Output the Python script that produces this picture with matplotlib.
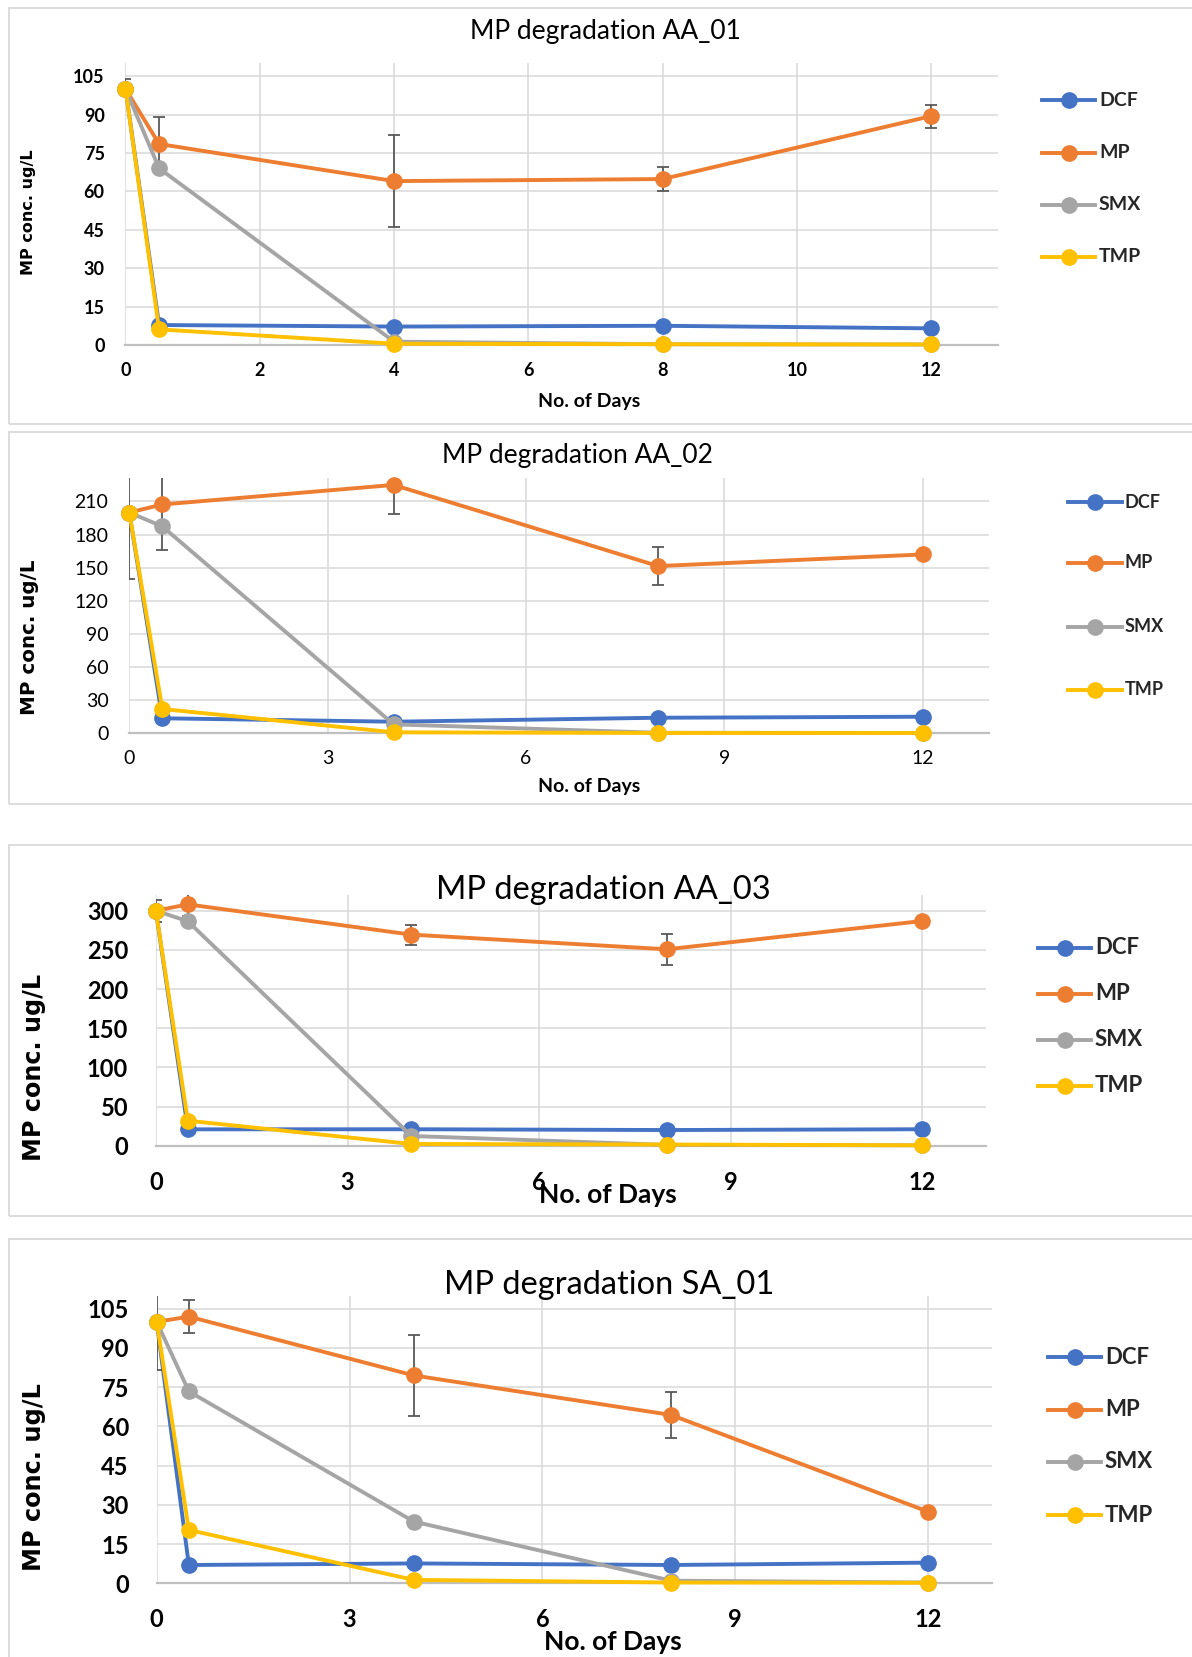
import matplotlib
matplotlib.use("Agg")
import matplotlib.pyplot as plt
from matplotlib.patches import Rectangle
from matplotlib.lines import Line2D

# ---------------- data ----------------
days = [0, 0.5, 4, 8, 12]
series_names = ["DCF", "MP", "SMX", "TMP"]

titles = ["MP degradation AA_01", "MP degradation AA_02",
          "MP degradation AA_03", "MP degradation SA_01"]

aa01_dcf = [100, 7.8, 7.2, 7.5, 6.5]
aa01_mp = [100, 78.5, 64.0, 64.8, 89.4]
aa01_smx = [100, 69.0, 1.3, 0.3, 0.2]
aa01_tmp = [100, 6.1, 0.5, 0.3, 0.2]
aa01_mp_err = [3.8, 10.6, 18.0, 4.8, 4.5]

aa02_dcf = [200, 13.6, 10.5, 14.1, 15.0]
aa02_mp = [200, 207.3, 225.0, 151.5, 162.0]
aa02_smx = [200, 187.4, 8.1, 0.5, 0.3]
aa02_tmp = [200, 22.0, 0.9, 0.3, 0.3]
aa02_mp_err = [60.5, 41.6, 26.0, 17.0, 0]

aa03_dcf = [300, 20.9, 21.0, 20.0, 21.0]
aa03_mp = [300, 308.0, 269.4, 250.7, 286.8]
aa03_smx = [300, 286.4, 12.4, 1.0, 0.5]
aa03_tmp = [300, 31.9, 2.2, 1.5, 0.5]
aa03_mp_err = [14.0, 15.0, 12.7, 19.5, 0]

sa01_dcf = [100, 7.0, 7.6, 7.0, 7.9]
sa01_mp = [100, 102.0, 79.5, 64.4, 27.4]
sa01_smx = [100, 73.4, 23.6, 1.0, 0.3]
sa01_tmp = [100, 20.4, 1.3, 0.3, 0.2]
sa01_mp_err = [18.3, 6.2, 15.4, 8.9, 0]

yticks_list = [list(range(0, 106, 15)), list(range(0, 211, 30)),
               list(range(0, 301, 50)), list(range(0, 106, 15))]
xticks_list = [list(range(0, 13, 2)), list(range(0, 13, 3)),
               list(range(0, 13, 3)), list(range(0, 13, 3))]
ymax_list = [110, 231, 320, 110]

panels_data = [
    (aa01_dcf, aa01_mp, aa01_smx, aa01_tmp, aa01_mp_err),
    (aa02_dcf, aa02_mp, aa02_smx, aa02_tmp, aa02_mp_err),
    (aa03_dcf, aa03_mp, aa03_smx, aa03_tmp, aa03_mp_err),
    (sa01_dcf, sa01_mp, sa01_smx, sa01_tmp, sa01_mp_err),
]

# ---------------- style ----------------
colors = {"DCF": "#4472C4", "MP": "#ED7D31", "SMX": "#A5A5A5", "TMP": "#FFC000"}
TXT = ["Lato", "DejaVu Sans"]
W, H = 1192, 1657
LW = 2.8
MS = 11

fig = plt.figure(figsize=(W / 100, H / 100), dpi=100)


def fx(x):
    return x / W


def fy(y):
    return 1 - y / H


# layout per panel (pixel coords in full image)
layout = [
    dict(ax=(125.5, 63.3, 998.5, 345.0), box=(9, 8, 1200, 424),
         title=(605, 32, 19), xlab=(589, 402, 14), ylab=(28, 212, 11.5),
         tick_fs=13, tick_bold=True, xpad=12, ypad=15,
         leg_x=(1042, 1095, 1099), leg_y=[100, 153, 205, 257], leg_fs=14),
    dict(ax=(129.3, 478.3, 988.6, 733.3), box=(9, 432, 1200, 804),
         title=(577, 456, 19), xlab=(589, 786, 14), ylab=(30, 637, 14.3),
         tick_fs=14, tick_bold=False, xpad=12, ypad=15,
         leg_x=(1068, 1122, 1125), leg_y=[502, 563, 627, 690], leg_fs=13),
    dict(ax=(155.9, 895.0, 986.3, 1145.7), box=(9, 845, 1200, 1216),
         title=(603, 890, 23.5), xlab=(608, 1195, 19), ylab=(34, 1067, 17.2),
         tick_fs=17, tick_bold=True, xpad=18, ypad=20,
         leg_x=(1038, 1091, 1095), leg_y=[948, 994, 1040, 1086], leg_fs=16),
    dict(ax=(156.7, 1295.7, 992.4, 1583.3), box=(9, 1239, 1200, 1700),
         title=(609, 1285, 23.5), xlab=(613, 1642, 19), ylab=(34, 1477, 17.3),
         tick_fs=17, tick_bold=True, xpad=18, ypad=20,
         leg_x=(1048, 1101, 1105), leg_y=[1357, 1410, 1462, 1515], leg_fs=16),
]

for i, (lay, data) in enumerate(zip(layout, panels_data)):
    # chart area border
    bx0, by0, bx1, by1 = lay["box"]
    fig.patches.append(Rectangle((fx(bx0), fy(by1)), fx(bx1 - bx0), (by1 - by0) / H,
                                 transform=fig.transFigure, fill=False,
                                 edgecolor="#D9D9D9", linewidth=1.3, zorder=0))
    x0, y0, x1, y1 = lay["ax"]
    ax = fig.add_axes([fx(x0), fy(y1), fx(x1 - x0), (y1 - y0) / H])
    ax.set_xlim(0, 13)
    ax.set_ylim(0, ymax_list[i])
    ax.set_xticks(xticks_list[i])
    ax.set_yticks(yticks_list[i])
    for s in ["top", "right", "left"]:
        ax.spines[s].set_visible(False)
    ax.spines["bottom"].set_color("#BFBFBF")
    ax.spines["bottom"].set_linewidth(1.6)
    ax.grid(True, color="#D9D9D9", linewidth=1.1)
    ax.set_axisbelow(True)
    fw = "bold" if lay["tick_bold"] else "normal"
    ax.tick_params(axis="both", length=0, labelsize=lay["tick_fs"], colors="black")
    ax.tick_params(axis="x", pad=lay["xpad"])
    ax.tick_params(axis="y", pad=lay["ypad"])
    for lab in ax.get_xticklabels() + ax.get_yticklabels():
        lab.set_fontfamily(TXT)
        lab.set_fontweight(fw)

    dcf, mp, smx, tmp, mp_err = data
    vals = {"DCF": dcf, "MP": mp, "SMX": smx, "TMP": tmp}
    for k, name in enumerate(series_names):
        ax.plot(days, vals[name], color=colors[name], linewidth=LW,
                marker="o", markersize=MS, clip_on=False, zorder=3 + k)
        if name == "MP":
            ax.errorbar(days, mp, yerr=mp_err, fmt="none", ecolor="#595959",
                        elinewidth=1.3, capsize=4, capthick=1.3, zorder=3.5)

    # title and axis labels
    tx, ty, tfs = lay["title"]
    fig.text(fx(tx), fy(ty), titles[i], ha="center", va="center",
             fontsize=tfs, family=TXT, color="#000000")
    lx, ly, lfs = lay["xlab"]
    fig.text(fx(lx), fy(ly), "No. of Days", ha="center", va="center",
             fontsize=lfs, family=TXT, fontweight="bold")
    yx, yy, yfs = lay["ylab"]
    fig.text(fx(yx), fy(yy), "MP conc. ug/L", ha="center", va="center",
             rotation=90, fontsize=yfs, family=["DejaVu Sans"], fontweight="bold")

    # legend (custom, right side)
    lx0, lx1, ltx = lay["leg_x"]
    for name, yy_ in zip(series_names, lay["leg_y"]):
        fig.add_artist(Line2D([fx(lx0), fx(lx1)], [fy(yy_), fy(yy_)],
                              transform=fig.transFigure, color=colors[name],
                              linewidth=LW))
        fig.add_artist(Line2D([fx((lx0 + lx1) / 2)], [fy(yy_)],
                              transform=fig.transFigure, color=colors[name],
                              marker="o", markersize=MS, linestyle="none"))
        fig.text(fx(ltx), fy(yy_), name, ha="left", va="center",
                 fontsize=lay["leg_fs"], family=TXT, fontweight="bold",
                 color="#262626")

fig.savefig("out.png", dpi=100, facecolor="white")
